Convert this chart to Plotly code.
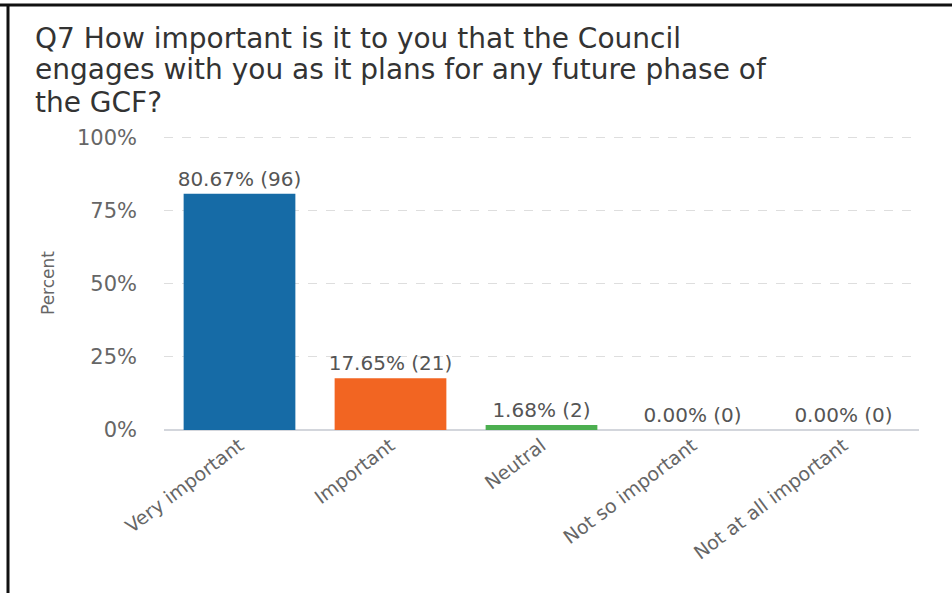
import plotly.graph_objects as go

# Survey responses for Q7
categories = ["Very important", "Important", "Neutral", "Not so important", "Not at all important"]
percents = [80.67, 17.65, 1.68, 0.00, 0.00]
counts = [96, 21, 2, 0, 0]
bar_colors = ["#166ba6", "#f26522", "#4caf50", "#888888", "#888888"]
y_ticks = [0, 25, 50, 75, 100]
y_tick_labels = ["0%", "25%", "50%", "75%", "100%"]
title_lines = [
    "Q7 How important is it to you that the Council",
    "engages with you as it plans for any future phase of",
    "the GCF?",
]

W, H = 952, 593
L, R, T, B = 164, 33, 136, 163
pw, ph = W - L - R, H - T - B
FONT = "DejaVu Sans"


def px_x(px):
    return (px - L) / pw


def px_y(py):
    return (H - B - py) / ph


fig = go.Figure(
    go.Bar(
        x=categories,
        y=percents,
        customdata=counts,
        marker=dict(color=bar_colors, line=dict(width=0)),
        texttemplate="%{y:.2f}% (%{customdata})",
        textposition="outside",
        constraintext="none",
        textfont=dict(size=20, color="#555555", family=FONT),
        cliponaxis=False,
        hoverinfo="skip",
    )
)

# title, one annotation per line
annotations = []
for i, line in enumerate(title_lines):
    annotations.append(dict(
        text=line, xref="paper", yref="paper",
        x=px_x(33), y=px_y(38 + 32 * i),
        xanchor="left", yanchor="middle", showarrow=False,
        font=dict(size=28, color="#333333", family=FONT),
    ))

fig.update_layout(
    width=W,
    height=H,
    margin=dict(l=L, r=R, t=T, b=B),
    paper_bgcolor="white",
    plot_bgcolor="white",
    font=dict(family=FONT, color="#666666"),
    bargap=0.26,
    showlegend=False,
    annotations=annotations,
    xaxis=dict(
        tickangle=-37,
        tickfont=dict(size=19, color="#666666"),
        showgrid=False,
        showline=False,
        ticks="",
    ),
    yaxis=dict(
        range=[0, 100.4],
        tickvals=y_ticks,
        ticktext=y_tick_labels,
        tickfont=dict(size=21, color="#666666"),
        showgrid=True,
        gridcolor="#dedede",
        griddash="dash",
        gridwidth=1,
        zeroline=True,
        zerolinecolor="#d3d6dc",
        zerolinewidth=2,
        ticks="",
        ticklabelstandoff=26,
        title=dict(
            text="Percent",
            font=dict(size=17, color="#666666", family=FONT),
            standoff=18,
        ),
    ),
    shapes=[
        # frame lines on the top and left edges
        dict(type="line", xref="paper", yref="paper",
             x0=px_x(0), x1=px_x(W), y0=px_y(5), y1=px_y(5),
             line=dict(color="#111111", width=3)),
        dict(type="line", xref="paper", yref="paper",
             x0=px_x(8), x1=px_x(8), y0=px_y(4), y1=px_y(H),
             line=dict(color="#111111", width=3)),
    ],
)

fig.write_html("out.html")
